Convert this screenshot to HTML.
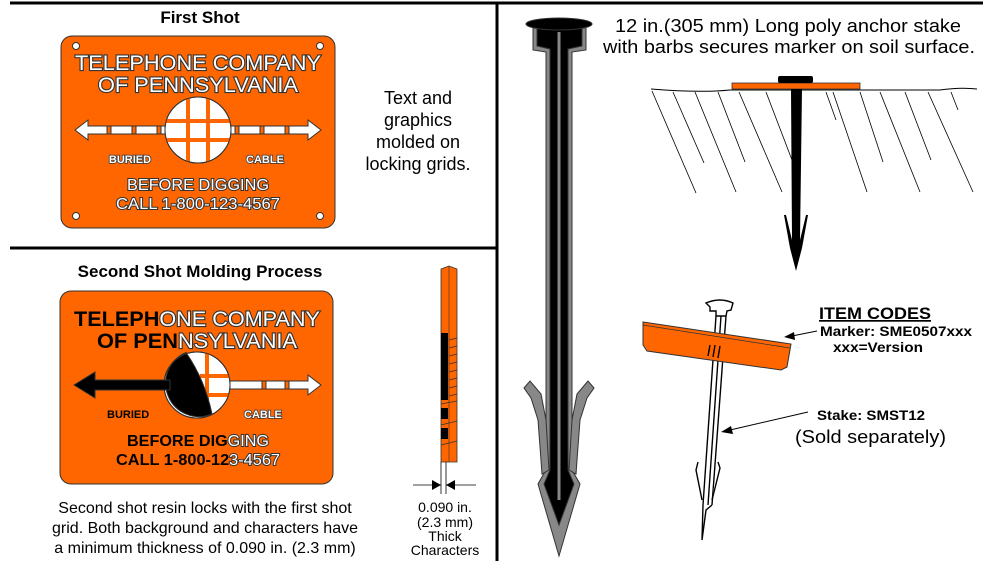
<!DOCTYPE html>
<html><head><meta charset="utf-8"><style>
html,body{margin:0;padding:0;background:#fff}
svg{display:block}
text{font-family:"Liberation Sans",Arial,sans-serif}
</style></head><body>
<svg width="983" height="561" viewBox="0 0 983 561" xmlns="http://www.w3.org/2000/svg">
<line x1="10" y1="3" x2="983" y2="3" stroke="#000" stroke-width="3"/>
<line x1="497" y1="3" x2="497" y2="561" stroke="#000" stroke-width="3"/>
<line x1="10" y1="248" x2="497" y2="248" stroke="#000" stroke-width="3"/>

<text x="200" y="23" font-size="17" font-weight="bold" text-anchor="middle">First Shot</text>
<text x="200" y="277" font-size="17" font-weight="bold" text-anchor="middle">Second Shot Molding Process</text>

<!-- Sign 1 -->
<rect x="61" y="36" width="274" height="192" rx="11" fill="#ff6600" stroke="#333" stroke-width="1"/>
<g fill="#fff" stroke="#333" stroke-width="1">
<circle cx="76" cy="46" r="3.5"/><circle cx="320" cy="46" r="3.5"/>
<circle cx="76" cy="216" r="3.5"/><circle cx="320" cy="216" r="3.5"/>
</g>
<g font-size="21" fill="#fff" stroke="#333" stroke-width="2.2" paint-order="stroke" text-anchor="middle">
<text x="198" y="70" textLength="246" lengthAdjust="spacingAndGlyphs">TELEPHONE COMPANY</text>
<text x="198" y="92" textLength="200" lengthAdjust="spacingAndGlyphs">OF PENNSYLVANIA</text>
</g>
<g stroke="#333" stroke-width="1">
<polygon points="75,130 88,120 88,126 308,126 308,120 321,130 308,140 308,134 88,134 88,140" fill="#fff"/>
<rect x="107" y="126" width="4" height="8" fill="#ff6600"/>
<rect x="132" y="126" width="4" height="8" fill="#ff6600"/>
<rect x="157" y="126" width="4" height="8" fill="#ff6600"/>
<rect x="235" y="126" width="4" height="8" fill="#ff6600"/>
<rect x="260" y="126" width="4" height="8" fill="#ff6600"/>
<rect x="285" y="126" width="4" height="8" fill="#ff6600"/>
<circle cx="198" cy="130" r="33" fill="#fff"/>
<rect x="186" y="97" width="4" height="66" fill="#ff6600" stroke="none"/>
<rect x="206" y="97" width="4" height="66" fill="#ff6600" stroke="none"/>
<rect x="165" y="119" width="66" height="4" fill="#ff6600" stroke="none"/>
<rect x="165" y="138" width="66" height="4" fill="#ff6600" stroke="none"/>
<circle cx="198" cy="130" r="33" fill="none"/>
</g>
<g font-size="11" font-weight="bold" fill="#fff" stroke="#333" stroke-width="1.5" paint-order="stroke" text-anchor="middle">
<text x="130" y="163">BURIED</text><text x="265" y="163">CABLE</text>
</g>
<g font-size="16" fill="#fff" stroke="#333" stroke-width="2" paint-order="stroke" text-anchor="middle">
<text x="198" y="190" textLength="142" lengthAdjust="spacingAndGlyphs">BEFORE DIGGING</text>
<text x="198" y="209" textLength="164" lengthAdjust="spacingAndGlyphs">CALL 1-800-123-4567</text>
</g>
<text x="418" y="104" font-size="18" text-anchor="middle">Text and</text>
<text x="418" y="126" font-size="18" text-anchor="middle">graphics</text>
<text x="418" y="148" font-size="18" text-anchor="middle">molded on</text>
<text x="418" y="170" font-size="18" text-anchor="middle">locking grids.</text>

<!-- Sign 2 -->
<rect x="60" y="291" width="273" height="193" rx="11" fill="#ff6600" stroke="#333" stroke-width="1"/>
<g font-size="21" text-anchor="middle">
<text x="197" y="326" textLength="246" lengthAdjust="spacingAndGlyphs"><tspan font-weight="bold" fill="#000">TELEPH</tspan><tspan fill="#fff" stroke="#333" stroke-width="2.2" paint-order="stroke">ONE COMPANY</tspan></text>
<text x="197" y="348" textLength="200" lengthAdjust="spacingAndGlyphs"><tspan font-weight="bold" fill="#000">OF PEN</tspan><tspan fill="#fff" stroke="#333" stroke-width="2.2" paint-order="stroke">NSYLVANIA</tspan></text>
</g>
<g stroke="#333" stroke-width="1">
<polygon points="230,381 308,381 308,375 321,385 308,395 308,389 230,389" fill="#fff"/>
<rect x="262" y="381" width="4" height="8" fill="#ff6600"/>
<rect x="285" y="381" width="4" height="8" fill="#ff6600"/>
<circle cx="197" cy="385" r="33" fill="#fff"/>
<rect x="205" y="352" width="4" height="66" fill="#ff6600" stroke="none"/>
<rect x="200" y="374" width="30" height="4" fill="#ff6600" stroke="none"/>
<rect x="200" y="393" width="30" height="4" fill="#ff6600" stroke="none"/>
<path d="M186,352.5 A33,33 0 0 0 212,414 Q205,380 186,352.5 Z" fill="#000"/>
<circle cx="197" cy="385" r="33" fill="none"/>
<polygon points="74,385 95,372 95,380 170,380 170,390 95,390 95,398" fill="#000"/>
</g>
<text x="107" y="418" font-size="11" font-weight="bold" fill="#000">BURIED</text>
<text x="244" y="418" font-size="11" font-weight="bold" fill="#fff" stroke="#333" stroke-width="1.5" paint-order="stroke">CABLE</text>
<g font-size="16" text-anchor="middle">
<text x="198" y="446" textLength="142" lengthAdjust="spacingAndGlyphs"><tspan font-weight="bold" fill="#000">BEFORE DIG</tspan><tspan fill="#fff" stroke="#333" stroke-width="2" paint-order="stroke">GING</tspan></text>
<text x="198" y="465" textLength="164" lengthAdjust="spacingAndGlyphs"><tspan font-weight="bold" fill="#000">CALL 1-800-12</tspan><tspan fill="#fff" stroke="#333" stroke-width="2" paint-order="stroke">3-4567</tspan></text>
</g>

<text x="205" y="513" font-size="16" text-anchor="middle">Second shot resin locks with the first shot</text>
<text x="205" y="533" font-size="16" text-anchor="middle">grid. Both background and characters have</text>
<text x="205" y="553" font-size="16" text-anchor="middle">a minimum thickness of 0.090 in. (2.3 mm)</text>

<!-- edge view -->
<polygon points="441,269 449,266 457,269 457,462 441,462" fill="#ff6600" stroke="#333" stroke-width="0.8"/>
<line x1="449" y1="266" x2="449" y2="462" stroke="#333" stroke-width="0.6"/>
<rect x="441" y="333" width="7" height="67" fill="#000"/>
<rect x="441" y="408" width="7" height="11" fill="#000"/>
<rect x="441" y="428" width="7" height="11" fill="#000"/>
<g stroke="#333" stroke-width="0.7">
<line x1="449" y1="340" x2="457" y2="338"/><line x1="449" y1="348" x2="457" y2="346"/>
<line x1="449" y1="356" x2="457" y2="354"/><line x1="449" y1="364" x2="457" y2="362"/>
<line x1="449" y1="372" x2="457" y2="370"/><line x1="449" y1="380" x2="457" y2="378"/>
<line x1="449" y1="388" x2="457" y2="386"/><line x1="449" y1="396" x2="457" y2="394"/>
<line x1="441" y1="404" x2="457" y2="401"/><line x1="441" y1="425" x2="457" y2="421"/>
<line x1="441" y1="445" x2="457" y2="441"/>
</g>
<g stroke="#000" stroke-width="0.8">
<line x1="441" y1="462" x2="441" y2="494"/><line x1="446" y1="462" x2="446" y2="494"/>
<line x1="413" y1="485" x2="441" y2="485"/><line x1="446" y1="485" x2="476" y2="485"/>
</g>
<polygon points="441,485 432,480 432,490" fill="#000"/>
<polygon points="446,485 455,480 455,490" fill="#000"/>
<g font-size="14" text-anchor="middle">
<text x="445" y="512">0.090 in.</text>
<text x="445" y="527">(2.3 mm)</text>
<text x="445" y="541">Thick</text>
<text x="445" y="555">Characters</text>
</g>

<!-- big stake -->
<g stroke="#333" stroke-width="1">
<path d="M533,25 L586,25 L586,50 L572,52 L572,470 L580,484 L559,556 L538,484 L546,470 L546,52 L533,50 Z" fill="#888"/>
<path d="M537,28 L582,28 L582,46 L568,49 L568,470 L574,484 L559,525 L544,484 L550,470 L550,49 L537,46 Z" fill="#000"/>
<ellipse cx="559" cy="24" rx="33" ry="6" fill="#000"/>
<polygon points="524,388 530,381 541,394 546,420 549,470 542,474 538,420 531,398" fill="#888"/>
<polygon points="594,388 588,381 577,394 572,420 569,470 576,474 580,420 587,398" fill="#888"/>
</g>
<line x1="559" y1="32" x2="559" y2="500" stroke="#888" stroke-width="3"/>

<text x="788" y="32" font-size="18" text-anchor="middle" textLength="346" lengthAdjust="spacingAndGlyphs">12 in.(305 mm) Long poly anchor stake</text>
<text x="789" y="53" font-size="18" text-anchor="middle" textLength="372" lengthAdjust="spacingAndGlyphs">with barbs secures marker on soil surface.</text>

<!-- soil -->
<path d="M651,89 Q700,93 730,90 L940,90 Q960,87 977,89" fill="none" stroke="#000" stroke-width="1"/>
<g stroke="#000" stroke-width="0.8">
<line x1="652" y1="91" x2="696" y2="193"/><line x1="673" y1="92" x2="704" y2="163"/>
<line x1="695" y1="92" x2="736" y2="192"/><line x1="718" y1="92" x2="745" y2="162"/>
<line x1="739" y1="92" x2="782" y2="192"/><line x1="766" y1="92" x2="792" y2="160"/>
<line x1="826" y1="92" x2="836" y2="120"/><line x1="833" y1="92" x2="867" y2="192"/>
<line x1="860" y1="92" x2="883" y2="162"/><line x1="880" y1="92" x2="920" y2="192"/>
<line x1="905" y1="92" x2="931" y2="160"/><line x1="928" y1="92" x2="973" y2="192"/>
<line x1="951" y1="92" x2="958" y2="110"/>
</g>
<rect x="732" y="83" width="128" height="6" fill="#ff6600" stroke="#333" stroke-width="0.8"/>
<rect x="778" y="76" width="35" height="7" rx="2" fill="#000"/>
<path d="M791,89 L802,89 L800,240 L806,215 L808,215 L802,248 L796,271 L790,248 L784,215 L786,215 L792,240 Z" fill="#000"/>

<!-- small stake w/ marker -->
<g stroke="#000" stroke-width="1.4" fill="#fff">
<path d="M706,303 Q720,297 733,303 L731,310 L727,311 L726,316 L716,316 L716,311 L710,311 L710,307 Z"/>
<line x1="716" y1="316" x2="703" y2="505"/><line x1="726" y1="316" x2="712" y2="505"/>
<line x1="721" y1="316" x2="708" y2="505"/>
<path d="M703,505 L702,540 L706,510 L712,505" />
<path d="M698,462 L696,470 L702,500"/><path d="M718,462 L720,468 L712,500"/>
</g>
<polygon points="643,322 791,344 787,367 781,370 647,351 643,345" fill="#ff6600" stroke="#333" stroke-width="1"/>
<line x1="643" y1="325" x2="790" y2="348" stroke="#333" stroke-width="0.8"/>
<g stroke="#000" stroke-width="1.4"><line x1="710" y1="345" x2="708" y2="356"/><line x1="715" y1="345" x2="713" y2="357"/><line x1="720" y1="346" x2="718" y2="358"/></g>

<text x="819" y="319" font-size="17" font-weight="bold" text-decoration="underline" textLength="112" lengthAdjust="spacingAndGlyphs">ITEM CODES</text>
<text x="820" y="336" font-size="14" font-weight="bold" textLength="152" lengthAdjust="spacingAndGlyphs">Marker: SME0507xxx</text>
<text x="833" y="352" font-size="14" font-weight="bold" textLength="90" lengthAdjust="spacingAndGlyphs">xxx=Version</text>
<line x1="817" y1="331" x2="792" y2="336" stroke="#000" stroke-width="1"/>
<polygon points="784,337 794,332 795,340" fill="#000"/>
<text x="817" y="420" font-size="14" font-weight="bold" textLength="108" lengthAdjust="spacingAndGlyphs">Stake: SMST12</text>
<text x="795" y="443" font-size="18" textLength="151" lengthAdjust="spacingAndGlyphs">(Sold separately)</text>
<line x1="808" y1="412" x2="730" y2="430" stroke="#000" stroke-width="1"/>
<polygon points="721,432 731,426 733,434" fill="#000"/>
</svg>
</body></html>
